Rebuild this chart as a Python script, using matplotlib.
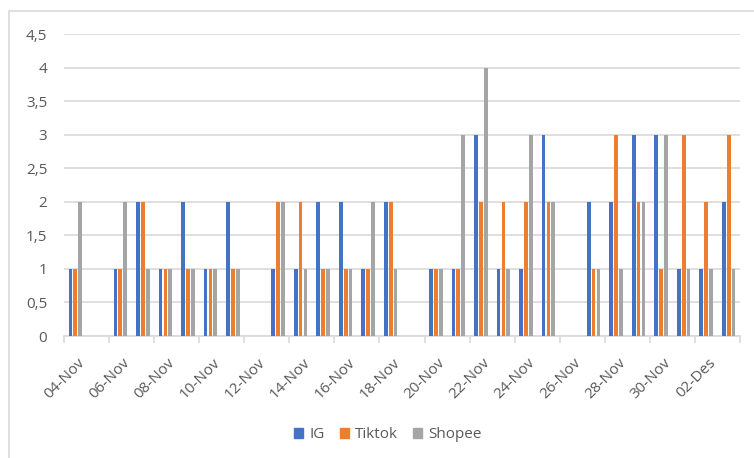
import numpy as np
import matplotlib
matplotlib.use('Agg')
import matplotlib.pyplot as plt
import matplotlib.transforms as mtransforms
from matplotlib.patches import Rectangle, Patch

# ## Data
dates = ['04-Nov', '05-Nov', '06-Nov', '07-Nov', '08-Nov', '09-Nov', '10-Nov',
         '11-Nov', '12-Nov', '13-Nov', '14-Nov', '15-Nov', '16-Nov', '17-Nov',
         '18-Nov', '19-Nov', '20-Nov', '21-Nov', '22-Nov', '23-Nov', '24-Nov',
         '25-Nov', '26-Nov', '27-Nov', '28-Nov', '29-Nov', '30-Nov', '01-Des',
         '02-Des', '03-Des']
ig     = [1, 0, 1, 2, 1, 2, 1, 2, 0, 1, 1, 2, 2, 1, 2, 0, 1, 1, 3, 1, 1, 3, 0, 2, 2, 3, 3, 1, 1, 2]
tiktok = [1, 0, 1, 2, 1, 1, 1, 1, 0, 2, 2, 1, 1, 1, 2, 0, 1, 1, 2, 2, 2, 2, 0, 1, 3, 2, 1, 3, 2, 3]
shopee = [2, 0, 2, 1, 1, 1, 1, 1, 0, 2, 1, 1, 1, 2, 1, 0, 1, 3, 4, 1, 3, 2, 0, 1, 1, 2, 3, 1, 1, 1]
series = {'IG': ig, 'Tiktok': tiktok, 'Shopee': shopee}
colors = ['#4472C4', '#ED7D31', '#A5A5A5']
yticks = [0, 0.5, 1, 1.5, 2, 2.5, 3, 3.5, 4, 4.5]

txt = '#595959'
plt.rcParams['font.family'] = ['Open Sans', 'DejaVu Sans']

fig = plt.figure(figsize=(7.54, 4.58), dpi=100)
ax = fig.add_axes([64 / 754, 1 - 336 / 458, 676 / 754, 302 / 458])

# chart border (cropped at right/bottom)
fig.patches.append(Rectangle((9 / 754, -0.1), 1.2, 1 - 11 / 458 + 0.1,
                             transform=fig.transFigure, fill=False,
                             edgecolor='#d9d9d9', linewidth=1.2))

x = np.arange(len(dates))
w = 0.165
step = 0.215
for k, (name, vals) in enumerate(series.items()):
    ax.bar(x + (k - 1) * step, vals, width=w, color=colors[k], label=name, zorder=3)

ax.set_xlim(-0.5, len(dates) - 0.5)
ax.set_ylim(0, 4.5)
ax.set_yticks(yticks)
ax.set_yticklabels([f'{v:g}'.replace('.', ',') for v in yticks], color=txt, fontsize=11)
ax.tick_params(axis='y', length=0, pad=12)
ax.grid(axis='y', color='#d9d9d9', linewidth=1.2, zorder=0)

for s in ['top', 'right', 'left']:
    ax.spines[s].set_visible(False)
ax.spines['bottom'].set_color('#d9d9d9')
ax.spines['bottom'].set_linewidth(1.2)

# tick marks between every 2 categories, labels every 2 categories
ax.set_xticks(np.arange(-0.5, len(dates), 2), minor=True)
ax.set_xticks(x[::2])
ax.set_xticklabels(dates[::2], rotation=45, ha='right', va='top',
                   rotation_mode='anchor', color=txt, fontsize=11)
ax.tick_params(axis='x', which='major', length=0, pad=14)
ax.tick_params(axis='x', which='minor', length=5, color='#d9d9d9', width=1.2)
offset = mtransforms.ScaledTranslation(2 / 100, 0, fig.dpi_scale_trans)
for lab in ax.get_xticklabels():
    lab.set_transform(lab.get_transform() + offset)

handles = [Patch(color=c, label=n) for c, n in zip(colors, series)]
fig.legend(handles=handles, loc='center', bbox_to_anchor=(388 / 754, 1 - 435 / 458),
           ncol=3, frameon=False, fontsize=11, handlelength=0.6, handleheight=0.6,
           handletextpad=0.4, columnspacing=1.0, labelcolor=txt)

fig.savefig('out.png', dpi=100)
